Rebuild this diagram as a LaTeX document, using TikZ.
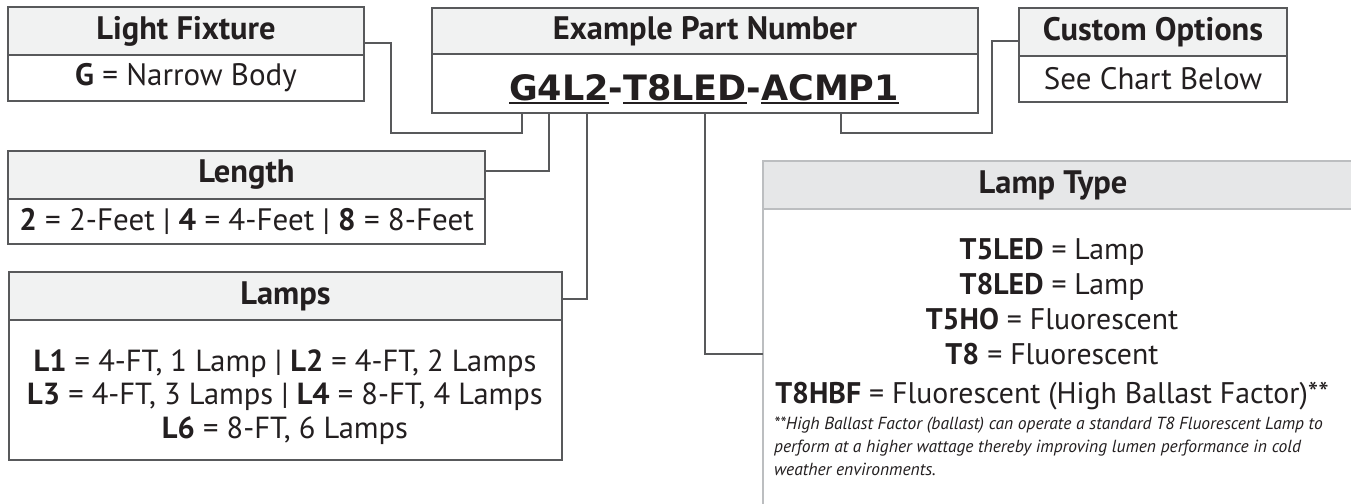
\documentclass[tikz,border=0pt]{standalone}
\usepackage{fontspec}
\setmainfont{PT Sans}
\newfontfamily\partfont{DejaVu Sans}
\usetikzlibrary{positioning}
\definecolor{boxline}{HTML}{58595B}
\definecolor{headfill}{HTML}{F1F2F2}
\definecolor{typefill}{HTML}{E6E7E8}
\definecolor{typeline}{HTML}{BCBEC0}
\definecolor{ink}{HTML}{231F20}

\tikzset{
  head/.style={draw=boxline, fill=headfill, line width=1.2pt, anchor=north west,
    inner sep=0pt, outer sep=0pt, text=ink, font=\fontsize{32.5}{36}\selectfont\bfseries},
  body/.style={draw=boxline, fill=white, line width=1.2pt, anchor=north west,
    inner sep=0pt, outer sep=0pt, text=ink, align=center,
    font=\fontsize{31}{36}\selectfont},
  rowtext/.style={inner sep=0pt, anchor=base, text=ink, font=\fontsize{30.5}{36}\selectfont},
  notetext/.style={inner sep=0pt, anchor=base west, text=ink, font=\fontsize{17.5}{22}\selectfont\itshape},
  link/.style={draw=boxline, line width=1.2pt},
  partseg/.style={inner sep=0pt, outer sep=0pt, anchor=base west, text=ink,
    font=\partfont\bfseries\fontsize{35}{35}\selectfont},
  underl/.style={draw=ink, line width=2.2pt},
}

\begin{document}
\begin{tikzpicture}[x=1pt,y=-1pt]
  \useasboundingbox (0,0) rectangle (1351,503);
  \clip (0,0) rectangle (1351,503);

  % Light Fixture
  \node[head, minimum width=356pt, minimum height=48pt] (lfhead) at (8,7) {Light Fixture};
  \node[body, minimum width=356pt, minimum height=46pt, below=0pt of lfhead] (lfbody) {\textbf{G} = Narrow Body};

  % Example Part Number
  \node[head, minimum width=546pt, minimum height=46pt] (pnhead) at (432,8) {Example Part Number};
  \node[body, minimum width=546pt, minimum height=59pt, below=0pt of pnhead] (pnbody) {};
  \node[partseg] (segA) at (509,100) {G4L2};
  \node[partseg] (dashA) at (segA.base east) {-};
  \node[partseg] (segB) at (dashA.base east) {T8LED};
  \node[partseg] (dashB) at (segB.base east) {-};
  \node[partseg] (segC) at (dashB.base east) {ACMP1};
  \foreach \s in {segA,segB,segC}
    \draw[underl] ([yshift=-3pt]\s.base west) -- ([yshift=-3pt]\s.base east);

  % Custom Options
  \node[head, minimum width=268pt, minimum height=48pt] (cohead) at (1019,8) {Custom Options};
  \node[body, minimum width=268pt, minimum height=46pt, below=0pt of cohead] (cobody) {See Chart Below};

  % Length
  \node[head, minimum width=477pt, minimum height=48pt] (lenhead) at (8,151) {Length};
  \node[body, minimum width=477pt, minimum height=45pt, below=0pt of lenhead] (lenbody)
    {\textbf{2} = 2-Feet | \textbf{4} = 4-Feet | \textbf{8} = 8-Feet};

  % Lamps
  \node[head, minimum width=553pt, minimum height=48pt] (lmphead) at (9,272) {Lamps};
  \node[body, minimum width=553pt, minimum height=140pt, below=0pt of lmphead] (lmpbody) {};
  \foreach \y/\t [count=\i] in {371/{\textbf{L1} = 4-FT, 1 Lamp | \textbf{L2} = 4-FT, 2 Lamps},
      404/{\textbf{L3} = 4-FT, 3 Lamps | \textbf{L4} = 8-FT, 4 Lamps},
      438/{\textbf{L6} = 8-FT, 6 Lamps}}
    \node[rowtext] (lmprow\i) at (285,\y) {\t};

  % Lamp Type (runs off the page)
  \node[head, draw=typeline, fill=typefill, minimum width=610pt, minimum height=48pt] (lthead) at (763,161) {};
  \node[body, draw=typeline, minimum width=610pt, minimum height=320pt, below=0pt of lthead] (ltbody) {};
  \node[text=ink, font=\fontsize{32.5}{36}\selectfont\bfseries] (lttitle) at (1053,185) {Lamp Type};
  \foreach \y/\t [count=\i] in {259/{\textbf{T5LED} = Lamp},
      294/{\textbf{T8LED} = Lamp},
      329/{\textbf{T5HO} = Fluorescent},
      364/{\textbf{T8} = Fluorescent},
      403/{\textbf{T8HBF} = Fluorescent (High Ballast Factor)**}}
    \node[rowtext, font=\fontsize{29.8}{36}\selectfont] (ltrow\i) at (1052,\y) {\t};
  \foreach \y/\t [count=\i] in {429/{**High Ballast Factor (ballast) can operate a standard T8 Fluorescent Lamp to},
      452/{perform at a higher wattage thereby improving lumen performance in cold},
      475/{weather environments.}}
    \node[notetext] (ltnote\i) at (774,\y) {\t};

  % taps under the part number
  \coordinate (tapG) at (522,113);
  \coordinate (tapL) at (549,113);
  \coordinate (tapLmp) at (587,113);
  \coordinate (tapT) at (705,113);
  \coordinate (tapC) at (841,113);

  % connectors
  \draw[link] ([yshift=-12pt]lfhead.east) -| ++(27,90) -| (tapG);
  \draw[link] ([yshift=4pt]lenhead.east) -| (tapL);
  \draw[link] ([yshift=-3pt]lmphead.east) -| (tapLmp);
  \draw[link] (tapT) |- ([yshift=-145pt]ltbody.north west);
  \draw[link] ([yshift=-9pt]cohead.west) -| ++(-27,92) -| (tapC);
\end{tikzpicture}
\end{document}
